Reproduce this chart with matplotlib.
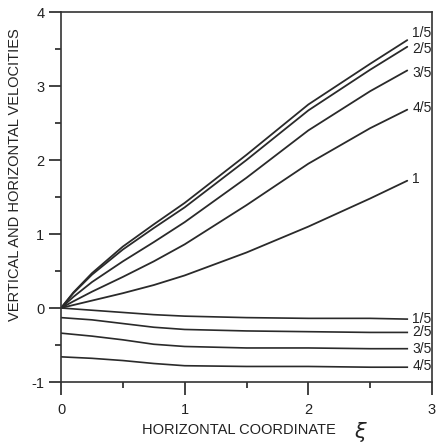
import matplotlib
matplotlib.use("Agg")
import matplotlib.pyplot as plt
from matplotlib.ticker import MultipleLocator

plt.rcParams['font.family'] = ['Liberation Sans', 'DejaVu Sans']
plt.rcParams['axes.unicode_minus'] = False

# Horizontal coordinate samples
xi_up = [0, 0.1, 0.25, 0.5, 0.75, 1.0, 1.5, 2.0, 2.5, 2.8]
xi_low = [0, 0.25, 0.5, 0.75, 1.0, 1.5, 2.0, 2.5, 2.8]

# Upper family (labels 1/5, 2/5, 3/5, 4/5, 1)
up_labels = ["1/5", "2/5", "3/5", "4/5", "1"]
up_15 = [0, 0.21, 0.47, 0.83, 1.13, 1.42, 2.07, 2.75, 3.30, 3.62]
up_25 = [0, 0.20, 0.45, 0.79, 1.08, 1.36, 2.00, 2.67, 3.22, 3.53]
up_35 = [0, 0.15, 0.35, 0.63, 0.89, 1.16, 1.76, 2.40, 2.93, 3.21]
up_45 = [0, 0.09, 0.22, 0.42, 0.63, 0.86, 1.39, 1.95, 2.43, 2.68]
up_1 = [0, 0.04, 0.10, 0.20, 0.31, 0.44, 0.75, 1.10, 1.48, 1.72]
up_label_y = [3.72, 3.50, 3.18, 2.70, 1.74]

# Lower family (labels 1/5, 2/5, 3/5, 4/5)
low_labels = ["1/5", "2/5", "3/5", "4/5"]
low_15 = [0, -0.03, -0.06, -0.09, -0.11, -0.13, -0.14, -0.14, -0.15]
low_25 = [-0.13, -0.16, -0.21, -0.26, -0.29, -0.31, -0.32, -0.33, -0.33]
low_35 = [-0.34, -0.38, -0.43, -0.49, -0.52, -0.54, -0.54, -0.55, -0.55]
low_45 = [-0.66, -0.68, -0.71, -0.75, -0.78, -0.79, -0.79, -0.80, -0.80]
low_label_y = [-0.15, -0.32, -0.55, -0.78]

xticks = [0, 1, 2, 3]
yticks = [-1, 0, 1, 2, 3, 4]

fig = plt.figure(figsize=(4.37, 4.44), dpi=100)
fig.patch.set_facecolor('white')
ax = fig.add_axes([61/437, 62/444, 371/437, 370/444])

lc = '#2a2a2a'
for ys in [up_15, up_25, up_35, up_45, up_1]:
    ax.plot(xi_up, ys, color=lc, lw=1.3, solid_capstyle='round')
for ys in [low_15, low_25, low_35, low_45]:
    ax.plot(xi_low, ys, color=lc, lw=1.2)

for lab, yv in zip(up_labels, up_label_y):
    ax.text(2.84, yv, lab, fontsize=10, ha='left', va='center', color='#222222')
for lab, yv in zip(low_labels, low_label_y):
    ax.text(2.84, yv, lab, fontsize=10, ha='left', va='center', color='#222222')

ax.set_xlim(0, 3)
ax.set_ylim(-1, 4)
ax.set_xticks(xticks)
ax.set_yticks(yticks)
ax.xaxis.set_minor_locator(MultipleLocator(0.5))
ax.yaxis.set_minor_locator(MultipleLocator(0.5))
ax.tick_params(which='major', direction='out', length=9, width=1.2, labelsize=10.5,
               colors='#222222', pad=3)
ax.tick_params(axis='x', which='major', pad=6)
ax.tick_params(which='minor', direction='out', length=4, width=1.2, colors='#222222')
for s in ax.spines.values():
    s.set_linewidth(1.2)
    s.set_color('#333333')

ax.set_ylabel("VERTICAL AND HORIZONTAL VELOCITIES", fontsize=10.5, color='#222222')
ax.yaxis.set_label_coords(-0.105, 0.56)
ax.set_xlabel("HORIZONTAL COORDINATE", fontsize=10.5, color='#222222')
ax.xaxis.set_label_coords(0.48, -0.112)
ax.text(0.79, -0.135, r"$\xi$", transform=ax.transAxes, fontsize=15, ha='left', va='center',
        color='#222222')

fig.savefig("out.png", dpi=100, facecolor='white')
